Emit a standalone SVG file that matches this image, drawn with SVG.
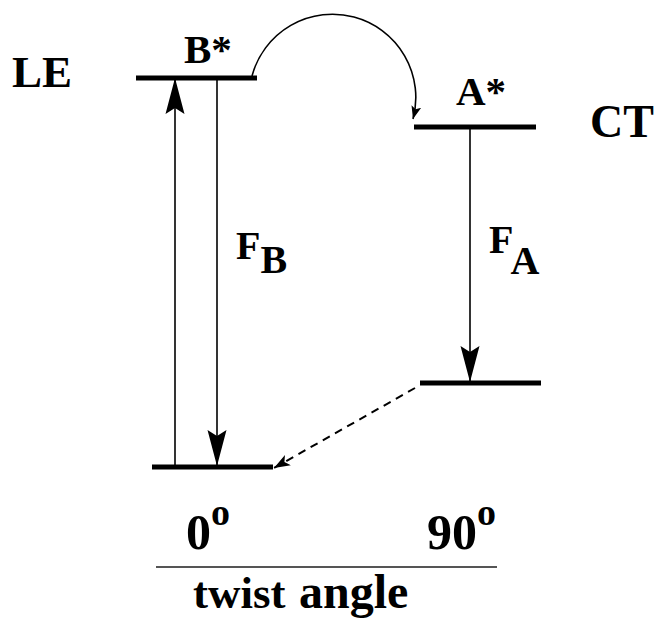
<svg xmlns="http://www.w3.org/2000/svg" width="655" height="621" viewBox="0 0 655 621">
<style>
.lvl{stroke:#000;stroke-width:5;fill:none}
.ln{stroke:#000;stroke-width:1.6;fill:none}
.t{font-family:"Liberation Serif","Times New Roman",serif;font-weight:bold;fill:#000}
</style>
<defs>
<marker id="big" markerUnits="userSpaceOnUse" markerWidth="40" markerHeight="24" viewBox="-36 -12 40 24" refX="0" refY="0" orient="auto">
<path d="M0,0 L-36,-9.5 L-30,0 L-36,9.5 Z" fill="#000"/>
</marker>
<marker id="sm" markerUnits="userSpaceOnUse" markerWidth="20" markerHeight="16" viewBox="-16 -8 20 16" refX="0" refY="0" orient="auto">
<path d="M0,0 L-16,-6 L-12,0 L-16,6 Z" fill="#000"/>
</marker>
<marker id="tiny" markerUnits="userSpaceOnUse" markerWidth="16" markerHeight="12" viewBox="-13 -6 16 12" refX="0" refY="0" orient="auto">
<path d="M0,0 L-13,-5 L-10,0 L-13,5 Z" fill="#000"/>
</marker>
</defs>
<rect width="655" height="621" fill="#fff"/>
<g id="LE-label"><text class="t" x="12" y="87" font-size="45">LE</text></g>
<g id="CT-label"><text class="t" x="590" y="137" font-size="46">CT</text></g>
<g id="Bstar"><line class="lvl" x1="136" y1="78" x2="257" y2="78"/><text class="t" x="184" y="63" font-size="41">B*</text></g>
<g id="Astar"><line class="lvl" x1="414" y1="127" x2="536" y2="127"/><text class="t" x="456" y="105" font-size="41">A*</text></g>
<g id="LE-ground"><line class="lvl" x1="152" y1="467" x2="273" y2="467"/></g>
<g id="CT-ground"><line class="lvl" x1="420" y1="383" x2="541" y2="383"/></g>
<g id="FB-label"><text class="t" x="236" y="259" font-size="40">F<tspan dy="14">B</tspan></text></g>
<g id="FA-label"><text class="t" x="489" y="253" font-size="40">F<tspan dy="21">A</tspan></text></g>
<g id="axis">
<text class="t" x="186" y="549" font-size="50">0<tspan font-size="38" dy="-24">o</tspan></text>
<text class="t" x="427" y="549" font-size="50">90<tspan font-size="38" dy="-24">o</tspan></text>
<line x1="156" y1="567" x2="497" y2="567" stroke="#555" stroke-width="2"/>
<text class="t" x="193" y="608" font-size="45">twist</text>
<text class="t" x="299" y="608" font-size="48">angle</text>
</g>
<g id="connectors">
<line class="ln" x1="175" y1="465" x2="175" y2="78" marker-end="url(#big)"/>
<line class="ln" x1="217" y1="80" x2="217" y2="466" marker-end="url(#big)"/>
<line class="ln" x1="470" y1="129" x2="470" y2="382" marker-end="url(#big)"/>
<path class="ln" d="M252,76 A 82.5 82.5 0 0 1 413,119" stroke-width="2" marker-end="url(#tiny)"/>
<line x1="415" y1="388" x2="274" y2="468" stroke="#000" stroke-width="2" stroke-dasharray="8,6" marker-end="url(#sm)"/>
</g>
</svg>
